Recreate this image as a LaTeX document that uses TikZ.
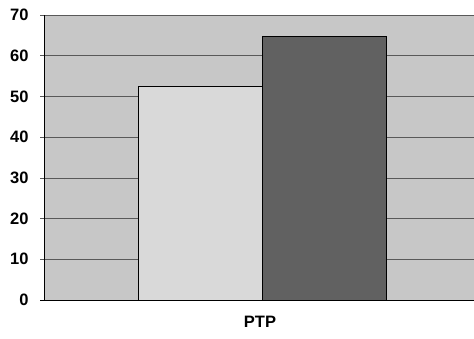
\documentclass[tikz,border=0pt]{standalone}
\usepackage{fontspec}
\setmainfont{Liberation Sans}
\begin{document}
\begin{tikzpicture}[x=1pt, y=1pt, thick, bar/.style = {draw=black, line width=0.8pt}, grid/.style = {draw=black!65, line width=0.6pt}, lbl/.style = {font=\bfseries\fontsize{16.5}{18}\selectfont, inner sep=0pt}]
		\useasboundingbox (0,0) rectangle (474,338);
		\fill[black!22] (44,38) rectangle (474,323);
		\foreach \v in {0,10,...,70} {
			\draw[grid] (40,38+\v*4.0714) -- (474,38+\v*4.0714);
			\node[lbl, anchor=east] (t\v) at (29,38+\v*4.0714) {\v};
		}
		\draw[bar, fill=black!15] (138,38) rectangle (262,38+52.5*4.0714);
		\draw[bar, fill=black!62] (262,38) rectangle (386,38+64.7*4.0714);
		\draw[black, line width=0.8pt] (44,38) -- (44,323);
		\draw[black, line width=0.8pt] (40,38) -- (474,38);
		\node[lbl] (ptp) at (260,16.5) {PTP};
	\end{tikzpicture}
\end{document}
